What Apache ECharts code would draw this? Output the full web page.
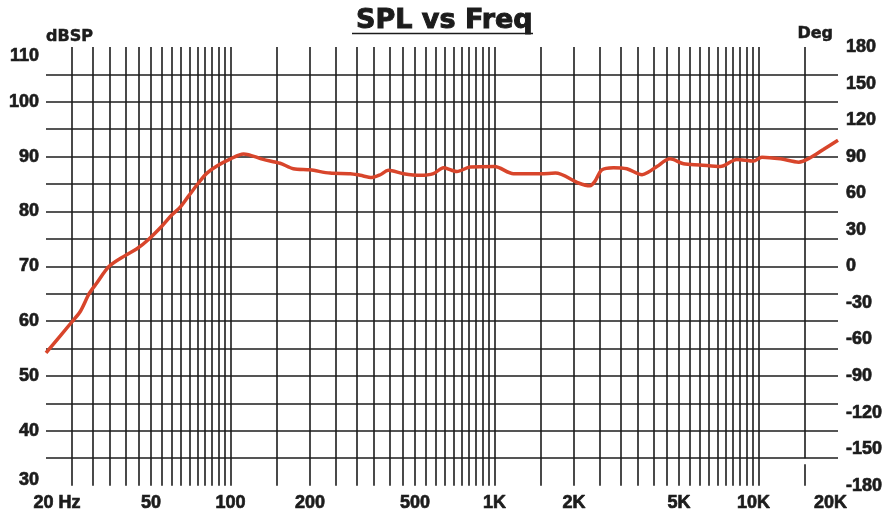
<!DOCTYPE html>
<html>
<head>
<meta charset="utf-8">
<script src="https://cdn.jsdelivr.net/npm/echarts@6/dist/echarts.min.js"></script>
<style>
  html, body { margin: 0; padding: 0; background: #fff; }
  #chart { width: 896px; height: 512px; }
</style>
</head>
<body>
<div id="chart"></div>
<script>
// SPL response (Hz, dB)
const freqs = [
  20, 25, 27, 29.2, 31.2, 34.7, 40, 44.2, 48.9, 54.9, 60, 64.5, 69.3, 75.6, 81.4, 88.8,
  100, 112, 133, 154, 173, 200, 238, 284, 310, 343, 369, 396, 452, 523, 587, 641, 720, 809,
  1000, 1180, 1500, 1700, 2080, 2300, 2400, 2550, 2820, 3170, 3620, 3830, 4120, 4620,
  5200, 6000, 7160, 8280, 9570, 10300, 12100, 14200, 15700, 17600, 20000,
];
const spl = [
  54.2, 59.8, 61.8, 65.1, 67.0, 70.0, 72.0, 73.2, 74.9, 77.3, 79.4, 80.8, 82.8, 85.2, 87.0, 88.3,
  89.6, 90.5, 89.5, 88.8, 87.8, 87.6, 87.0, 86.9, 86.6, 86.2, 86.7, 87.5, 86.9, 86.6, 86.9, 88.0, 87.3, 88.1,
  88.2, 86.9, 86.9, 87.0, 85.2, 84.7, 85.5, 87.6, 88.0, 87.8, 86.7, 87.2, 88.2, 89.6,
  88.7, 88.5, 88.2, 89.5, 89.2, 89.9, 89.6, 89.0, 89.8, 91.3, 93.0,
];

// vertical grid lines of the chart paper
const gridFreqs = [
  25, 30, 35, 40, 45, 50, 55, 60, 65, 70, 75, 80, 85, 90, 95, 100,
  150, 200, 250, 300, 350, 400, 450, 500, 550, 600, 650, 700, 750, 800, 850, 900, 950, 1000,
  1500, 2000, 2500, 3000, 3500, 4000, 4500, 5000, 5500, 6000, 6500, 7000, 7500, 8000, 8500, 9000, 9500, 10000,
];

// tick labels
const xTickValues = [20, 50, 100, 200, 500, 1000, 2000, 5000, 10000, 20000];
const xTickLabels = ["20 Hz", "50", "100", "200", "500", "1K", "2K", "5K", "10K", "20K"];

const ink = "#1c1c1c";
const numStyle = {
  color: ink,
  fontSize: 18,
  fontWeight: "bold",
  fontFamily: "Liberation Sans",
  textBorderColor: ink,
  textBorderWidth: 0.7,
};
const nameStyle = {
  color: ink,
  fontSize: 16,
  fontWeight: "bold",
  fontFamily: "DejaVu Sans",
  textBorderColor: ink,
  textBorderWidth: 0.5,
};

const chart = echarts.init(document.getElementById("chart"));

const vLines = gridFreqs.map((f) => ({ xAxis: f }));
// the 15K line has a small break just under the 35 dB line
vLines.push([{ coord: [15000, 30] }, { coord: [15000, 33.9] }]);
vLines.push([{ coord: [15000, 35.0] }, { coord: [15000, 110] }]);

chart.setOption({
  animation: false,
  title: {
    text: "SPL vs Freq",
    left: 351,
    top: 2,
    textStyle: {
      color: ink,
      fontSize: 27,
      fontWeight: "bold",
      fontFamily: "DejaVu Sans",
      textBorderColor: ink,
      textBorderWidth: 1,
    },
  },
  graphic: [
    {
      type: "line",
      shape: { x1: 352, y1: 33.5, x2: 533, y2: 33.5 },
      style: { stroke: ink, lineWidth: 1.6 },
    },
  ],
  grid: {
    left: 46,
    right: 58,
    top: 47,
    bottom: 26,
  },
  xAxis: {
    type: "log",
    logBase: 10,
    min: 20,
    max: 20000,
    axisLine: { show: false },
    axisTick: { show: false },
    splitLine: { show: false },
    minorSplitLine: { show: false },
    axisLabel: {
      customValues: xTickValues,
      margin: 8,
      ...numStyle,
      formatter: (v) => {
        const i = xTickValues.indexOf(Math.round(v));
        const t = i >= 0 ? xTickLabels[i] : "";
        if (i === 0) return "{first|" + t + "}";
        if (i === 8) return "{mid|" + t + "}";
        if (i === 9) return "{last|" + t + "}";
        return t;
      },
      rich: {
        first: { ...numStyle, padding: [0, 0, 0, 22] },
        mid: { ...numStyle, padding: [0, 10, 0, 0] },
        last: { ...numStyle, padding: [0, 15, 0, 0] },
      },
    },
  },
  yAxis: [
    {
      type: "value",
      min: 30,
      max: 110,
      interval: 5,
      name: "dBSP",
      nameLocation: "end",
      nameGap: 2,
      nameTextStyle: { ...nameStyle, align: "left" },
      axisLine: { show: false },
      axisTick: { show: false },
      splitLine: {
        show: true,
        showMinLine: false,
        showMaxLine: false,
        lineStyle: { color: ink, width: 1.6 },
      },
      axisLabel: {
        margin: 7,
        ...numStyle,
        verticalAlignMaxLabel: "top",
        formatter: (v) => {
          if (v % 10 !== 0) return "";
          if (v === 30) return "{low|30}";
          return String(v);
        },
        rich: {
          low: { ...numStyle, padding: [0, 0, 12, 0] },
        },
      },
    },
    {
      type: "value",
      position: "right",
      min: -180,
      max: 180,
      interval: 30,
      name: "Deg",
      nameLocation: "end",
      nameGap: 5,
      nameTextStyle: { ...nameStyle, align: "right", padding: [0, 5, 0, 0] },
      axisLine: { show: false },
      axisTick: { show: false },
      splitLine: { show: false },
      axisLabel: {
        margin: 8,
        ...numStyle,
        padding: [0, 0, 20, 0],
      },
    },
  ],
  series: [
    {
      // chart paper verticals
      type: "line",
      data: [],
      silent: true,
      z: 1,
      markLine: {
        silent: true,
        symbol: ["none", "none"],
        label: { show: false },
        lineStyle: { color: ink, width: 1.6, type: "solid" },
        data: vLines,
      },
    },
    {
      name: "SPL",
      type: "line",
      yAxisIndex: 0,
      z: 5,
      smooth: 0.3,
      showSymbol: false,
      lineStyle: { color: "#d8452b", width: 3.5 },
      data: freqs.map((f, i) => [f, spl[i]]),
    },
  ],
});
</script>
</body>
</html>
